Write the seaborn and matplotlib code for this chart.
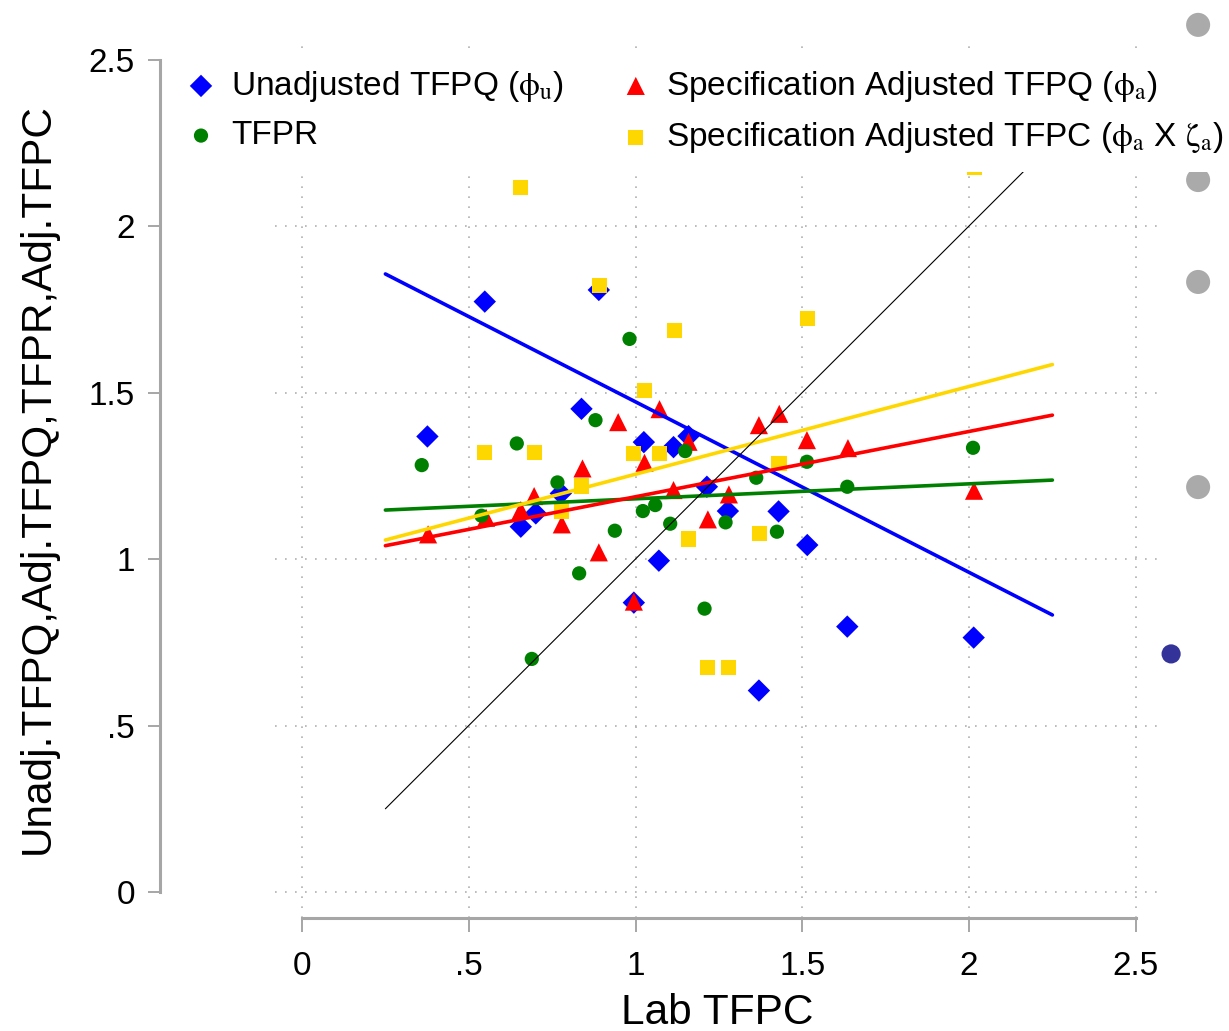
import numpy as np
import pandas as pd
import seaborn as sns
import matplotlib.pyplot as plt

# values
x_unadj = [0.376, 0.548, 0.656, 0.701, 0.776, 0.838, 0.890, 0.995, 1.025, 1.070,
           1.114, 1.159, 1.214, 1.277, 1.370, 1.429, 1.515, 1.635, 2.014]
y_unadj = [1.368, 1.773, 1.097, 1.137, 1.197, 1.451, 1.808, 0.869, 1.351, 0.995,
           1.336, 1.369, 1.217, 1.144, 0.605, 1.143, 1.042, 0.797, 0.764]

x_tfpr = [0.359, 0.538, 0.644, 0.689, 0.766, 0.831, 0.880, 0.938, 0.982, 1.022,
          1.059, 1.104, 1.149, 1.207, 1.270, 1.362, 1.424, 1.514, 1.635, 2.012]
y_tfpr = [1.282, 1.130, 1.347, 0.700, 1.230, 0.957, 1.417, 1.085, 1.661, 1.144,
          1.162, 1.106, 1.324, 0.851, 1.110, 1.244, 1.082, 1.292, 1.217, 1.334]

x_adj = [0.378, 0.552, 0.656, 0.696, 0.779, 0.841, 0.890, 0.948, 0.995, 1.027,
         1.072, 1.114, 1.159, 1.217, 1.280, 1.370, 1.431, 1.514, 1.637, 2.015]
y_adj = [1.074, 1.124, 1.147, 1.189, 1.104, 1.272, 1.020, 1.411, 0.872, 1.289,
         1.450, 1.207, 1.352, 1.119, 1.194, 1.402, 1.436, 1.357, 1.333, 1.205]

x_tfpc = [0.548, 0.656, 0.698, 0.778, 0.839, 0.892, 0.995, 1.026, 1.071, 1.116,
          1.159, 1.217, 1.278, 1.372, 1.430, 1.515, 2.016]
y_tfpc = [1.320, 2.116, 1.320, 1.144, 1.219, 1.822, 1.316, 1.506, 1.318, 1.687,
          1.060, 0.675, 0.675, 1.077, 1.287, 1.723, 2.175]

# fitted lines (end points) and 45 degree line
fit_x = [0.25, 2.25]
fit_unadj = [1.856, 0.832]
fit_tfpr = [1.147, 1.237]
fit_adj = [1.040, 1.432]
fit_tfpc = [1.057, 1.584]
diag_y = [0.25, 2.25]

# stray markers at the right edge of the picture
x_gray = [2.687, 2.687, 2.687, 2.687]
y_gray = [2.604, 2.138, 1.832, 1.216]
x_navy = [2.606]
y_navy = [0.715]

ticks = [0, 0.5, 1, 1.5, 2, 2.5]
tick_labels = ["0", ".5", "1", "1.5", "2", "2.5"]

labels = [
    r"Unadjusted TFPQ ($\mathrm{\phi_{u}}$)",
    "TFPR",
    r"Specification Adjusted TFPQ ($\mathrm{\phi_{a}}$)",
    r"Specification Adjusted TFPC ($\mathrm{\phi_{a}}$ X $\mathrm{\zeta_{a}}$)",
]

sns.set_theme(style="white")
plt.rcParams["font.family"] = ["Liberation Sans", "DejaVu Sans"]
plt.rcParams["mathtext.fontset"] = "stix"
plt.rcParams["text.color"] = "black"
plt.rcParams["axes.labelcolor"] = "black"

BLUE, GREEN, RED, GOLD = "#0000ff", "#008000", "#ff0000", "#ffd700"
AXC = "#a6a6a6"

fig = plt.figure(figsize=(12.29, 10.31), dpi=100)
ax = fig.add_axes([0.22376, 0.10961, 0.72010, 0.85160])

sns.scatterplot(x=x_unadj, y=y_unadj, marker="D", s=130, color=BLUE,
                edgecolor="none", label=labels[0], ax=ax, zorder=3)
sns.scatterplot(x=x_adj, y=y_adj, marker="^", s=170, color=RED,
                edgecolor="none", label=labels[2], ax=ax, zorder=3)
sns.scatterplot(x=x_tfpr, y=y_tfpr, marker="o", s=105, color=GREEN,
                edgecolor="none", label=labels[1], ax=ax, zorder=3)
sns.scatterplot(x=x_tfpc, y=y_tfpc, marker="s", s=120, color=GOLD,
                edgecolor="none", label=labels[3], ax=ax, zorder=3)

sns.lineplot(x=fit_x, y=fit_unadj, color=BLUE, lw=2.6, ax=ax, zorder=4)
sns.lineplot(x=fit_x, y=fit_tfpr, color=GREEN, lw=2.6, ax=ax, zorder=4)
sns.lineplot(x=fit_x, y=fit_adj, color=RED, lw=2.6, ax=ax, zorder=4)
sns.lineplot(x=fit_x, y=fit_tfpc, color=GOLD, lw=2.6, ax=ax, zorder=4)
sns.lineplot(x=fit_x, y=diag_y, color="black", lw=0.8, ax=ax, zorder=4)

sns.scatterplot(x=x_gray, y=y_gray, s=300, color="#aaaaaa", edgecolor="none",
                ax=ax, clip_on=False, legend=False)
sns.scatterplot(x=x_navy, y=y_navy, s=190, color="#333399", edgecolor="none",
                ax=ax, clip_on=False, legend=False)

ax.set_xlim(-0.081, 2.5727)
ax.set_ylim(-0.078, 2.5586)
ax.set_xticks(ticks)
ax.set_xticklabels(tick_labels)
ax.set_yticks(ticks)
ax.set_yticklabels(tick_labels)

ax.grid(True, color="#b0b0b0", linestyle=(0, (1, 5)), linewidth=1.2)
for side in ["top", "right"]:
    ax.spines[side].set_visible(False)
ax.spines["left"].set_position(("outward", 82.8))
ax.spines["left"].set_bounds(0, 2.5)
ax.spines["bottom"].set_bounds(0, 2.5)
for side in ["left", "bottom"]:
    ax.spines[side].set_color(AXC)
    ax.spines[side].set_linewidth(2.2)
ax.tick_params(axis="y", direction="out", length=9, width=1.4, color=AXC,
               labelcolor="black", labelsize=24, pad=9, left=True)
ax.tick_params(axis="x", direction="out", length=10, width=1.4, color=AXC,
               labelcolor="black", labelsize=24, pad=14, bottom=True)

ax.set_xlabel("Lab TFPC", fontsize=30.5, labelpad=8)
ax.set_ylabel("Unadj.TFPQ,Adj.TFPQ,TFPR,Adj.TFPC", fontsize=30.5, labelpad=22)

handles, labs = ax.get_legend_handles_labels()
order = [labs.index(l) for l in labels]
leg = ax.legend([handles[i] for i in order], [labs[i] for i in order],
                ncol=2, loc="upper left",
                bbox_to_anchor=(171 / 1229, 1 - 52 / 1031),
                bbox_transform=fig.transFigure, borderaxespad=0,
                fontsize=24, frameon=True, fancybox=False, framealpha=1,
                facecolor="white", edgecolor="none", borderpad=0.5,
                handlelength=0.8, handletextpad=0.5, columnspacing=1.75,
                labelspacing=0.5, markerscale=1.0)
leg.set_zorder(10)

fig.savefig("out.png", dpi=100)
